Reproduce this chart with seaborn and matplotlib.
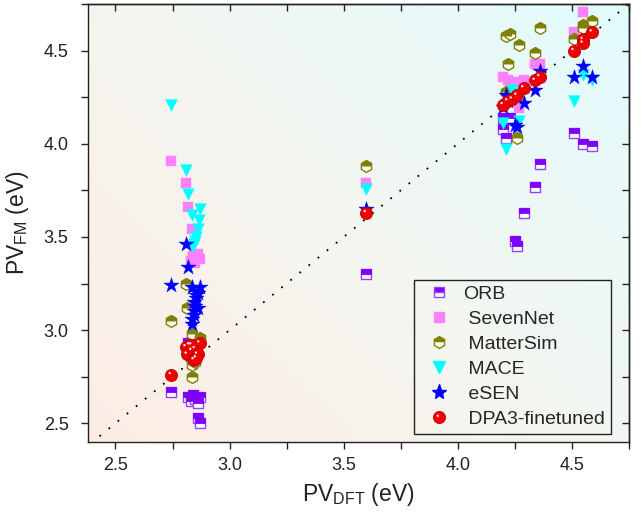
import numpy as np
import pandas as pd
import matplotlib
matplotlib.use("Agg")
import matplotlib.pyplot as plt
from matplotlib.markers import MarkerStyle
from matplotlib.path import Path
from matplotlib.lines import Line2D
from matplotlib.legend_handler import HandlerTuple
from matplotlib.colors import LinearSegmentedColormap
import seaborn as sns

# ---- data: DFT reference vs. foundation-model predictions (eV) ----
orb_dft = [2.745, 2.82, 2.83, 2.84, 2.85, 2.86, 2.87, 2.86, 2.87, 2.82, 2.83,
           3.60, 4.20, 4.21, 4.20, 4.23, 4.25, 4.26, 4.29, 4.34, 4.36, 4.51, 4.55, 4.59]
orb_fm = [2.67, 2.64, 2.62, 2.65, 2.63, 2.61, 2.64, 2.53, 2.50, 2.93, 2.86,
          3.30, 4.08, 4.03, 4.14, 4.14, 3.48, 3.45, 3.63, 3.77, 3.89, 4.06, 4.00, 3.99]

sevennet_dft = [2.745, 2.81, 2.82, 2.835, 2.83, 2.84, 2.85, 2.86, 2.87, 2.85,
                3.60, 4.20, 4.22, 4.23, 4.25, 4.27, 4.29, 4.34, 4.36, 4.51, 4.55]
sevennet_fm = [3.91, 3.79, 3.66, 3.54, 3.37, 3.40, 3.38, 3.41, 3.38, 3.36,
               3.79, 4.36, 4.34, 4.33, 4.33, 4.19, 4.34, 4.43, 4.43, 4.60, 4.71]

mattersim_dft = [2.745, 2.81, 2.815, 2.835, 2.87, 2.835, 2.835, 2.85,
                 3.60, 4.21, 4.23, 4.27, 4.36, 4.22, 4.34, 4.21, 4.26, 4.51, 4.55, 4.55, 4.59]
mattersim_fm = [3.05, 3.25, 3.12, 2.98, 2.96, 2.81, 2.75, 2.83,
                3.88, 4.58, 4.59, 4.53, 4.62, 4.43, 4.49, 4.28, 4.03, 4.56, 4.64, 4.62, 4.66]

mace_dft = [2.745, 2.81, 2.82, 2.835, 2.87, 2.865, 2.86, 2.855, 2.845, 2.835, 2.85,
            3.60, 4.21, 4.20, 4.27, 4.24, 4.25, 4.51, 4.55, 4.59]
mace_fm = [4.21, 3.86, 3.73, 3.62, 3.65, 3.59, 3.54, 3.50, 3.46, 3.45, 3.48,
           3.76, 3.97, 4.11, 4.12, 4.29, 4.27, 4.23, 4.37, 4.34]

esen_dft = [2.745, 2.81, 2.82, 2.835, 2.87, 2.86, 2.855, 2.85, 2.845, 2.835, 2.835,
            2.845, 2.855, 2.86, 2.845, 3.60, 4.21, 4.22, 4.25, 4.26, 4.29, 4.34,
            4.36, 4.51, 4.55, 4.59, 4.20]
esen_fm = [3.24, 3.46, 3.34, 3.23, 3.23, 3.20, 3.17, 3.13, 3.10, 3.06, 3.03,
           3.15, 3.19, 3.12, 3.08, 3.65, 4.26, 4.23, 4.10, 4.09, 4.22, 4.29,
           4.39, 4.36, 4.42, 4.36, 4.20]

dpa3_dft = [2.745, 2.81, 2.825, 2.85, 2.87, 2.815, 2.835, 2.86, 2.845, 2.855, 2.835,
            3.60, 4.20, 4.22, 4.24, 4.26, 4.29, 4.34, 4.36, 4.51, 4.55, 4.55, 4.59]
dpa3_fm = [2.76, 2.91, 2.92, 2.90, 2.93, 2.87, 2.89, 2.87, 2.84, 2.85, 2.92,
           3.63, 4.21, 4.23, 4.24, 4.26, 4.30, 4.34, 4.36, 4.50, 4.56, 4.54, 4.60]

parity_range = [2.43, 4.75]
x_ticks = [2.5, 3.0, 3.5, 4.0, 4.5]
y_ticks = [2.5, 3.0, 3.5, 4.0, 4.5]

# ---- style ----
sns.set_theme(style="white")
plt.rcParams["font.family"] = ["Liberation Sans", "DejaVu Sans"]
plt.rcParams["mathtext.fontset"] = "custom"
plt.rcParams["mathtext.rm"] = "Liberation Sans"
ink = "#222222"

fig = plt.figure(figsize=(6.43, 5.12), dpi=100)
ax = fig.add_axes([0.137, 0.137, 0.841, 0.855])
xlim = (2.38, 4.75)
ylim = (2.40, 4.75)

# soft diagonal background wash: warm at lower-left, cyan at upper-right
wash = LinearSegmentedColormap.from_list("wash", ["#fcede4", "#f4f6f1", "#e2fbfd"])
gx, gy = np.meshgrid(np.linspace(0, 1, 300), np.linspace(0, 1, 300))
ax.imshow(wash(0.55 * gx + 0.45 * gy), extent=(*xlim, *ylim), origin="lower",
          aspect="auto", zorder=0, interpolation="bilinear")

frames = {
    "ORB": pd.DataFrame({"dft": orb_dft, "fm": orb_fm}),
    "SevenNet": pd.DataFrame({"dft": sevennet_dft, "fm": sevennet_fm}),
    "MatterSim": pd.DataFrame({"dft": mattersim_dft, "fm": mattersim_fm}),
    "MACE": pd.DataFrame({"dft": mace_dft, "fm": mace_fm}),
    "eSEN": pd.DataFrame({"dft": esen_dft, "fm": esen_fm}),
    "DPA3": pd.DataFrame({"dft": dpa3_dft, "fm": dpa3_fm}),
}

purple, purple_edge = "#7f00ff", "#9a40ff"
pink = "#ff80ff"
olive = "#808000"
cyan = "#00ffff"
blue = "#0000ff"
red = "#f00000"
glint = "#ffe4e4"

top_square = MarkerStyle("s", fillstyle="top")
top_hex = MarkerStyle("h", fillstyle="top")

# ORB: half-filled squares (white base + filled upper half)
sns.scatterplot(data=frames["ORB"], x="dft", y="fm", ax=ax, marker="s", s=55,
                color="white", edgecolor=purple_edge, linewidth=1.0, zorder=3)
sns.scatterplot(data=frames["ORB"], x="dft", y="fm", ax=ax, marker=top_square, s=55,
                color=purple, edgecolor=purple, linewidth=0.6, zorder=3)
# SevenNet
sns.scatterplot(data=frames["SevenNet"], x="dft", y="fm", ax=ax, marker="s", s=58,
                color=pink, edgecolor=pink, linewidth=0.3, zorder=4)
# MatterSim: half-filled hexagons
sns.scatterplot(data=frames["MatterSim"], x="dft", y="fm", ax=ax, marker="h", s=72,
                color="white", edgecolor=olive, linewidth=1.0, zorder=5)
sns.scatterplot(data=frames["MatterSim"], x="dft", y="fm", ax=ax, marker=top_hex, s=72,
                color=olive, edgecolor=olive, linewidth=0.6, zorder=5)
# MACE
sns.scatterplot(data=frames["MACE"], x="dft", y="fm", ax=ax, marker="v", s=70,
                color=cyan, edgecolor=cyan, linewidth=0.3, zorder=6)
# eSEN
sns.scatterplot(data=frames["eSEN"], x="dft", y="fm", ax=ax, marker="*", s=130,
                color=blue, edgecolor=blue, linewidth=0.3, zorder=7)

# DPA3: shaded spheres (red disc + small off-centre highlight)
theta = np.linspace(0, 2 * np.pi, 40)
glint_path = Path(np.column_stack([-0.28 + 0.2 * np.cos(theta), 0.28 + 0.2 * np.sin(theta)]))
glint_scale = 0.48  # keeps the glint in proportion to the disc after marker normalisation
sphere_s = 76
sns.scatterplot(data=frames["DPA3"], x="dft", y="fm", ax=ax, marker="o", s=sphere_s,
                color=red, edgecolor="#c00000", linewidth=0.6, zorder=8)
sns.scatterplot(data=frames["DPA3"], x="dft", y="fm", ax=ax, marker=glint_path,
                s=sphere_s * glint_scale ** 2, color=glint, edgecolor="none",
                linewidth=0, zorder=9)

# parity line
sns.lineplot(x=parity_range, y=parity_range, ax=ax, color="black",
             linestyle=(0, (1, 5.5)), linewidth=1.3, zorder=2)

ax.set_xlim(*xlim)
ax.set_ylim(*ylim)
ax.set_xticks(x_ticks)
ax.set_yticks(y_ticks)
ax.set_xticks(np.arange(2.5, 4.76, 0.25), minor=True)
ax.set_yticks(np.arange(2.5, 4.76, 0.25), minor=True)
ax.tick_params(axis="both", which="both", direction="out", length=5, width=1,
               color=ink, labelsize=13, labelcolor=ink, bottom=True, left=True)
ax.tick_params(axis="x", which="major", pad=6)
ax.tick_params(axis="y", which="major", pad=9)
ax.tick_params(axis="both", which="minor", labelbottom=False, labelleft=False)
ax.xaxis.set_major_formatter(matplotlib.ticker.FormatStrFormatter("%.1f"))
ax.yaxis.set_major_formatter(matplotlib.ticker.FormatStrFormatter("%.1f"))
# mirrored inward ticks on top and right
secx = ax.secondary_xaxis("top")
secx.set_xticks(np.arange(2.5, 4.76, 0.25))
secx.tick_params(direction="in", length=5, width=1, color=ink, labeltop=False)
secy = ax.secondary_yaxis("right")
secy.set_yticks(np.arange(2.5, 4.76, 0.25))
secy.tick_params(direction="in", length=5, width=1, color=ink, labelright=False)
for sp in list(ax.spines.values()) + [secx.spines["top"], secy.spines["right"]]:
    sp.set_color(ink)
    sp.set_linewidth(1.0)

ax.set_xlabel(r"PV$_{\mathregular{DFT}}$ (eV)", fontsize=16.5, color=ink, labelpad=5)
ax.set_ylabel(r"PV$_{\mathregular{FM}}$ (eV)", fontsize=16.5, color=ink, labelpad=9)

# legend
def half(marker, color, edge, size):
    return Line2D([], [], linestyle="none", marker=marker, fillstyle="top",
                  markerfacecolor=color, markerfacecoloralt="white",
                  markeredgecolor=edge, markersize=size, markeredgewidth=1.0)

handles = [
    half("s", purple, purple_edge, 7),
    Line2D([], [], linestyle="none", marker="s", color=pink, markersize=7.5),
    half("h", olive, olive, 8.5),
    Line2D([], [], linestyle="none", marker="v", color=cyan, markersize=8),
    Line2D([], [], linestyle="none", marker="*", color=blue, markersize=11),
    (Line2D([], [], linestyle="none", marker="o", markerfacecolor=red,
            markeredgecolor="#c00000", markersize=8.7, markeredgewidth=0.6),
     Line2D([], [], linestyle="none", marker=glint_path, color=glint,
            markersize=8.7 * glint_scale, markeredgewidth=0)),
]
labels = ["ORB", " SevenNet", " MatterSim", " MACE", " eSEN", " DPA3-finetuned"]
leg = ax.legend(handles, labels, loc="lower right", bbox_to_anchor=(0.967, 0.018),
                fontsize=14, frameon=True, fancybox=False, framealpha=1,
                edgecolor=ink, handlelength=2.0, handletextpad=0.25,
                labelspacing=0.38, borderpad=0.3, borderaxespad=0,
                handler_map={tuple: HandlerTuple(ndivide=1, pad=0)})
leg.get_frame().set_facecolor("none")
leg.get_frame().set_linewidth(1.0)

fig.savefig("out.png", dpi=100)
